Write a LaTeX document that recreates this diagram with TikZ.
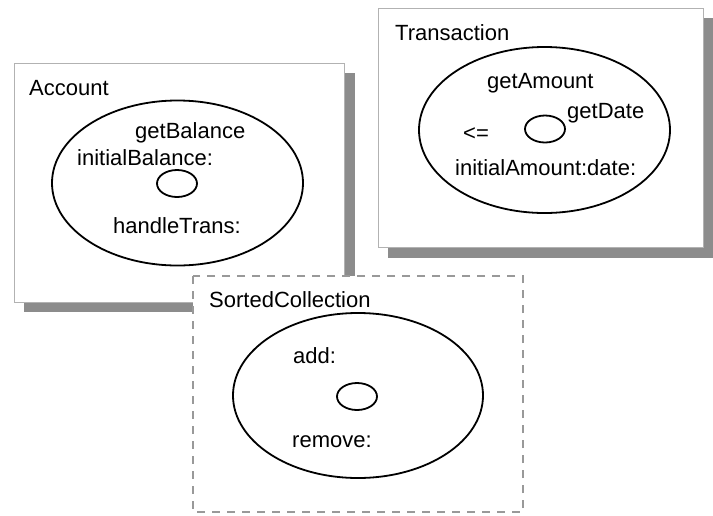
\documentclass[tikz,border=0pt]{standalone}
\usepackage{fontspec}
\setmainfont{Liberation Sans}
\usetikzlibrary{shapes.geometric}
\begin{document}
\begin{tikzpicture}[x=1pt,y=-1pt,
  lbl/.style={anchor=base west,inner sep=0pt,font=\fontsize{22}{24}\selectfont},
  shadowbox/.style={fill=black!45,draw=none},
  classbox/.style={fill=white,draw=black!30,line width=1pt},
  dashbox/.style={fill=white,draw=black!40,line width=1.2pt,dash pattern=on 8pt off 7pt},
  outer/.style={draw=black,line width=1.8pt,ellipse,inner sep=0pt},
  inner/.style={draw=black,line width=1.8pt,ellipse,inner sep=0pt,minimum width=40pt,minimum height=27pt}]
\useasboundingbox (0,0) rectangle (713,515);
% Transaction
\fill[shadowbox] (388,18) rectangle (713,258);
\draw[classbox] (378,8) rectangle (703,247);
\node[outer,minimum width=251pt,minimum height=166pt] (tout) at (544.5,130) {};
\node[inner] (tin) at (545,129) {};
\node[lbl] (tname) at (395,40) {Transaction};
\node[lbl] (tga) at (487,88) {getAmount};
\node[lbl] (tgd) at (567,118) {getDate};
\node[lbl] (tle) at (463,140) {<=};
\node[lbl] (tia) at (455,175) {initialAmount:date:};
% Account
\fill[shadowbox] (24,73) rectangle (355,312);
\draw[classbox] (14,63) rectangle (344,302);
\node[outer,minimum width=251pt,minimum height=165pt] (aout) at (177.5,183) {};
\node[inner] (ain) at (177,183.5) {};
\node[lbl] (aname) at (29,95) {Account};
\node[lbl] (agb) at (135,138) {getBalance};
\node[lbl] (aib) at (77,165) {initialBalance:};
\node[lbl] (aht) at (113,233) {handleTrans:};
% SortedCollection
\draw[dashbox] (193,276) rectangle (523,512);
\node[outer,minimum width=250pt,minimum height=165pt] (sout) at (358,395.5) {};
\node[inner] (sin) at (357,396.5) {};
\node[lbl] (sname) at (209,307) {SortedCollection};
\node[lbl] (sadd) at (293,363) {add:};
\node[lbl] (srem) at (292,447) {remove:};
\end{tikzpicture}
\end{document}
